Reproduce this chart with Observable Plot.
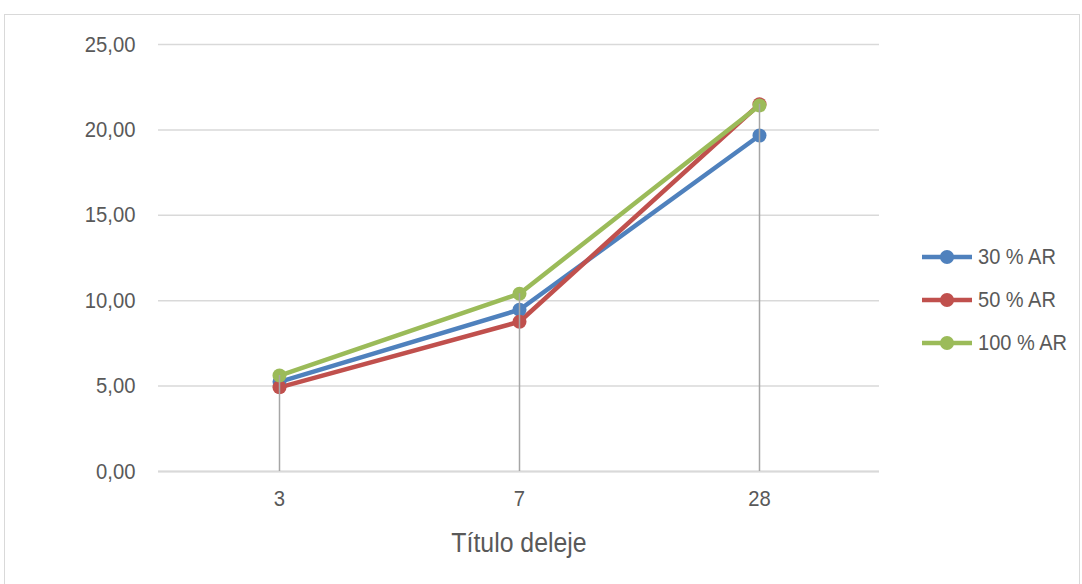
<!DOCTYPE html>
<html><head><meta charset="utf-8">
<script src="https://cdn.jsdelivr.net/npm/d3@7"></script>
<script src="https://cdn.jsdelivr.net/npm/@observablehq/plot@0.6"></script>
<style>
  body{margin:0;background:#fff;font-family:"Liberation Sans",Arial,sans-serif;}
  #wrap{position:relative;width:1082px;height:584px;overflow:hidden;}
  #frame{position:absolute;left:4px;top:14px;width:1074px;height:600px;border:1.5px solid #D9D9D9;pointer-events:none;}
  #legend{position:absolute;left:921px;top:235px;color:#595959;font-size:22px;}
  #legend .row{display:flex;align-items:center;height:43px;}
  #legend svg{margin-right:5px;flex:none;}
  #legend span{display:inline-block;transform:scaleX(0.91);transform-origin:left center;white-space:nowrap;}
</style></head>
<body><div id="wrap"><div id="frame"></div><div id="legend"></div></div>
<script>
const categories = ["3", "7", "28"];
const seriesNames = ["30 % AR", "50 % AR", "100 % AR"];
const s30 = [5.25, 9.47, 19.67];
const s50 = [4.93, 8.77, 21.5];
const s100 = [5.62, 10.41, 21.43];
const colors = ["#4F81BD", "#C0504D", "#9BBB59"];
const yTicks = [0, 5, 10, 15, 20, 25];
const xLabel = "Título deleje";

const seriesValues = [s30, s50, s100];
const data = seriesNames.flatMap((name, i) =>
  categories.map((c, j) => ({series: name, cat: c, value: seriesValues[i][j]})));
const drops = categories.map((c, j) => ({cat: c, top: d3.max(seriesValues, s => s[j])}));
const fmt = d => d3.format(".2f")(d).replace(".", ",");

const chart = Plot.plot({
  width: 1082, height: 584,
  marginLeft: 158, marginRight: 203, marginTop: 44, marginBottom: 113,
  style: {fontFamily: "'Liberation Sans',Arial,sans-serif", fontSize: "22px", color: "#595959", background: "transparent"},
  x: {type: "band", domain: categories, padding: 0, label: null},
  y: {domain: [0, 25], label: null},
  color: {domain: seriesNames, range: colors},
  marks: [
    Plot.gridY(yTicks, {stroke: "#D9D9D9", strokeOpacity: 1, strokeWidth: 1.5}),
    Plot.ruleY([0], {stroke: "#D9D9D9", strokeWidth: 2}),
    Plot.axisY({ticks: yTicks, tickFormat: fmt, tickSize: 0, tickPadding: 23, fontSize: 22, fill: "#595959", label: null}),
    Plot.axisX({tickSize: 0, tickPadding: 19, fontSize: 22, fill: "#595959", label: null}),
    Plot.text([xLabel], {frameAnchor: "bottom", dy: 72, fontSize: 27, fill: "#595959", lineAnchor: "middle"}),
    Plot.line(data, {x: "cat", y: "value", z: "series", stroke: "series", strokeWidth: 4.5}),
    Plot.dot(data, {x: "cat", y: "value", fill: "series", r: 7, stroke: "none"}),
    Plot.ruleX(drops, {x: "cat", y1: 0, y2: "top", stroke: "#A6A6A6", strokeWidth: 1.5})
  ]
});
document.getElementById("wrap").prepend(chart);

// condense text horizontally (reference uses a narrow face)
chart.querySelectorAll("text").forEach(t => {
  const len = t.getComputedTextLength();
  if (len > 0) {
    t.setAttribute("textLength", (len * 0.92).toFixed(1));
    t.setAttribute("lengthAdjust", "spacingAndGlyphs");
  }
});

const legend = document.getElementById("legend");
seriesNames.forEach((name, i) => {
  const row = document.createElement("div");
  row.className = "row";
  row.innerHTML = `<svg width="52" height="16"><line x1="1" y1="8" x2="51" y2="8" stroke="${colors[i]}" stroke-width="4.5"/><circle cx="26" cy="8" r="7" fill="${colors[i]}"/></svg><span>${name}</span>`;
  legend.appendChild(row);
});
</script>
</body></html>
